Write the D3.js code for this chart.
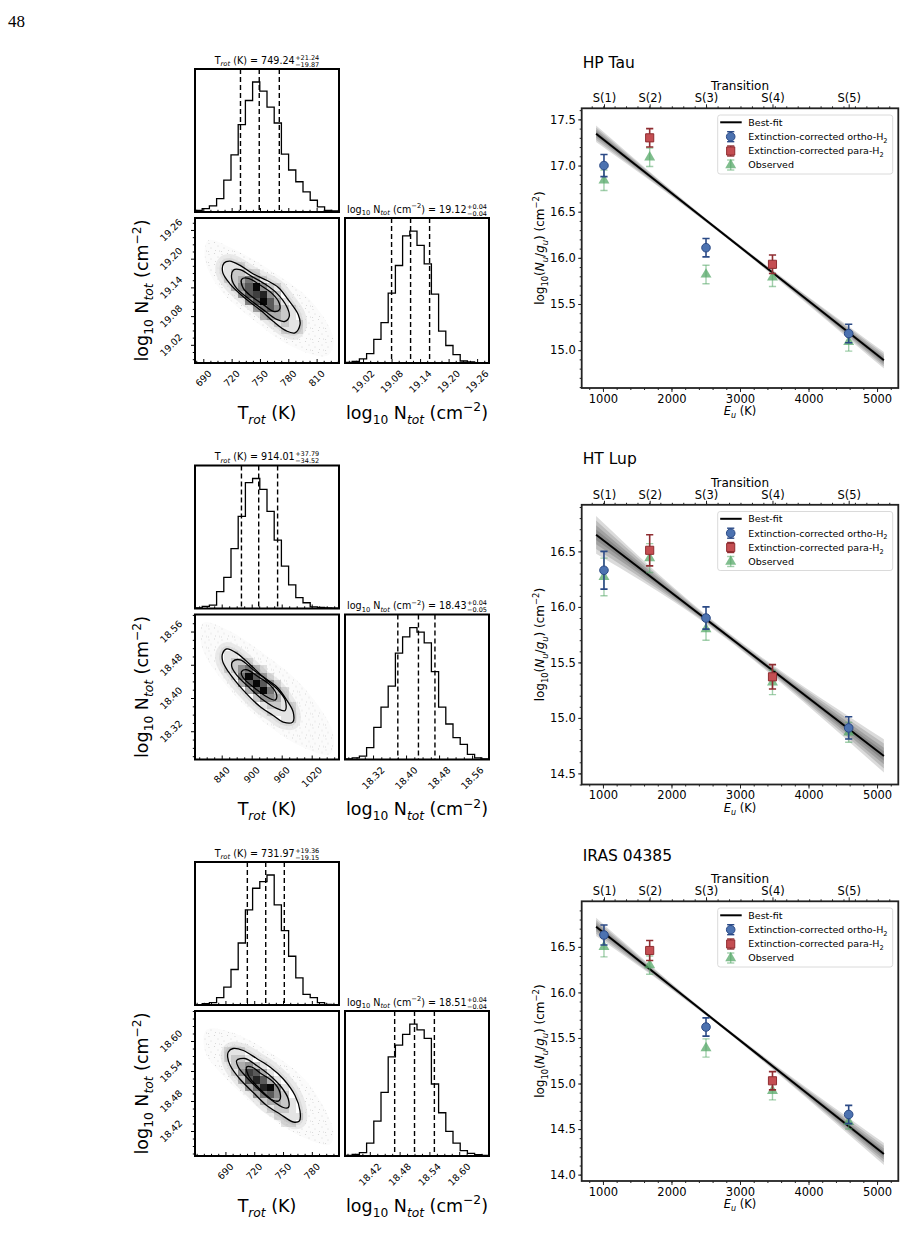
<!DOCTYPE html>
<html>
<head>
<meta charset="utf-8">
<script src="https://cdn.jsdelivr.net/npm/d3@7/dist/d3.min.js"></script>
<style>
body { margin: 0; background: #fff; }
svg { display: block; }
text { font-family: "DejaVu Sans", sans-serif; fill: #000; }
</style>
</head>
<body>
<svg id="fig" width="905" height="1245"></svg>
<script>
// ---------- values ----------
var sourceNames = ["HP Tau", "HT Lup", "IRAS 04385"];
var transitionNames = ["S(1)", "S(2)", "S(3)", "S(4)", "S(5)"];
var transitionEu = [1015, 1682, 2504, 3474, 4586];
var orthoIdx = [0, 2, 4];
var paraIdx = [1, 3];

var orthoLogN = [[17.00, 16.11, 15.18], [16.33, 15.90, 14.91], [16.63, 15.62, 14.66]];
var orthoErr  = [[0.12, 0.10, 0.10], [0.17, 0.10, 0.10], [0.11, 0.10, 0.10]];
var paraLogN  = [[17.30, 15.93], [16.51, 15.37], [16.46, 15.03]];
var paraErr   = [[0.10, 0.10], [0.14, 0.11], [0.11, 0.10]];
var obsLogN   = [[16.84, 17.09, 15.82, 15.79, 15.09], [16.27, 16.44, 15.80, 15.32, 14.87], [16.50, 16.30, 15.39, 14.92, 14.58]];
var obsErr    = [[0.11, 0.10, 0.10, 0.10, 0.10], [0.17, 0.13, 0.10, 0.11, 0.09], [0.11, 0.10, 0.10, 0.10, 0.08]];

// best fit (value at Eu = 900 and 5100 K) and spread of the posterior lines
var fitEu = [900, 5100];
var fitLogN = [[17.345, 14.89], [16.65, 14.657], [16.72, 14.226]];
var bandEu = [900, 2800, 5100];
var bandHalf = [[0.09, 0.02, 0.09], [0.17, 0.035, 0.15], [0.10, 0.02, 0.12]];

var euDomain = [690, 5310];
var euTicks = [1000, 2000, 3000, 4000, 5000];
var logNDomain = [[14.59, 17.62], [14.40, 16.92], [13.93, 17.00]];

// corner plots
var tRot   = [749.24, 914.01, 731.97];
var tRotUp = [21.24, 37.79, 19.36];
var tRotLo = [19.87, 34.52, 19.15];
var nTot   = [19.12, 18.43, 18.51];
var nTotUp = [0.04, 0.04, 0.04];
var nTotLo = [0.04, 0.05, 0.04];

var tRange = [[681.2, 833.7], [786.6, 1074.6], [658.3, 808.3]];
var nRange = [[18.982, 19.285], [18.252, 18.601], [18.37, 18.66]];
var tTicks = [[690, 720, 750, 780, 810], [840, 900, 960, 1020], [690, 720, 750, 780]];
var nTicks = [[19.02, 19.08, 19.14, 19.20, 19.26], [18.32, 18.40, 18.48, 18.56], [18.42, 18.48, 18.54, 18.60]];

var tHist = [
  [5, 10, 18, 40, 95, 170, 260, 332, 387, 360, 312, 265, 172, 125, 90, 60, 35, 15, 5, 3],
  [2, 6, 10, 50, 92, 177, 272, 372, 384, 352, 287, 202, 125, 70, 32, 17, 5, 3, 2, 1],
  [1, 4, 7, 22, 54, 107, 187, 287, 352, 372, 392, 302, 224, 147, 82, 32, 22, 7, 2, 1]
];
var nHist = [
  [2, 5, 12, 28, 70, 120, 208, 290, 378, 392, 350, 295, 205, 95, 52, 25, 6, 3, 1, 0],
  [2, 5, 10, 35, 95, 155, 217, 315, 363, 390, 377, 345, 260, 155, 105, 65, 45, 15, 5, 2],
  [2, 5, 10, 38, 103, 188, 293, 328, 360, 390, 373, 348, 213, 128, 73, 38, 16, 8, 4, 2]
];

// 20x20 density cells, top row first, darkness 0-9
var cells = [
  ["00000000000000000000", "00000000000000000000", "00000000000000000000", "00000000000000000000",
   "00000000000000000000", "00000000000000000000", "00001110000000000000", "00001221100000000000",
   "00001235310000000000", "00000246942100000000", "00000036784200000000", "00000004696310000000",
   "00000000356421000000", "00000000023321000000", "00000000000121100000", "00000000000011100000",
   "00000000000000000000", "00000000000000000000", "00000000000000000000", "00000000000000000000"],
  ["00000000000000000000", "00000000000000000000", "00000000000000000000", "00000000000000000000",
   "00000000000000000000", "00001100000000000000", "00001221000000000000", "00001245210000000000",
   "00000159631000000000", "00000036963100000000", "00000003695210000000", "00000000244310000000",
   "00000000012211000000", "00000000001111000000", "00000000000011000000", "00000000000000000000",
   "00000000000000000000", "00000000000000000000", "00000000000000000000", "00000000000000000000"],
  ["00000000000000000000", "00000000000000000000", "00000000000000000000", "00000000000000000000",
   "00000000000000000000", "00001110000000000000", "00001221000000000000", "00000234210000000000",
   "00000147631000000000", "00000026863100000000", "00000003589410000000", "00000000356420000000",
   "00000000023321000000", "00000000001221000000", "00000000000111100000", "00000000000011000000",
   "00000000000000000000", "00000000000000000000", "00000000000000000000", "00000000000000000000"]
];

var contourOuter = [
  [[712, 19.191], [718, 19.195], [729, 19.186], [743, 19.168], [757, 19.155], [769.5, 19.140], [780, 19.114], [790.6, 19.083],
   [792.4, 19.062], [787, 19.045], [778, 19.049], [764, 19.069], [752, 19.090], [732, 19.121], [718, 19.148], [710.5, 19.172]],
  [[842, 18.508], [850, 18.518], [870, 18.508], [897, 18.480], [923, 18.451], [950, 18.427], [970, 18.395], [983, 18.366],
   [982, 18.342], [963, 18.342], [943, 18.358], [917, 18.379], [883, 18.419], [853, 18.464], [842, 18.488]],
  [[693, 18.578], [698, 18.585], [708.6, 18.581], [722.5, 18.565], [736.4, 18.548], [750.3, 18.524], [762.5, 18.491], [767.7, 18.460],
   [767, 18.440], [760.7, 18.438], [746.8, 18.454], [733, 18.471], [719, 18.497], [705, 18.524], [695, 18.551], [692.3, 18.568]]
];
var contourMid = [
  [[721.8, 19.176], [728.9, 19.177], [741.2, 19.163], [755.3, 19.147], [767.7, 19.128], [778.3, 19.100], [781.1, 19.080],
   [776.5, 19.069], [767.7, 19.073], [753.6, 19.093], [737.7, 19.117], [725.3, 19.138], [720, 19.159]],
  [[862, 18.488], [877, 18.492], [903, 18.468], [930, 18.443], [953, 18.419], [967, 18.395], [967, 18.370], [950, 18.375],
   [923, 18.395], [897, 18.423], [870, 18.455], [860, 18.476]],
  [[701.7, 18.561], [710.4, 18.565], [722.5, 18.551], [736.4, 18.531], [748.6, 18.507], [755.5, 18.484], [755.5, 18.467],
   [750.3, 18.467], [736.4, 18.484], [722.5, 18.507], [710.4, 18.531], [703.4, 18.548]]
];
var contourInner = [
  [[730.6, 19.157], [737.7, 19.159], [750, 19.145], [762.4, 19.128], [770.5, 19.107], [770.5, 19.093], [764.2, 19.090],
   [753.6, 19.104], [741.2, 19.121], [732.4, 19.138]],
  [[880, 18.464], [890, 18.468], [913, 18.451], [937, 18.431], [950, 18.407], [947, 18.395], [930, 18.403], [907, 18.423],
   [887, 18.443], [880, 18.455]],
  [[712.1, 18.548], [717.3, 18.548], [727.7, 18.534], [739.9, 18.518], [746.8, 18.497], [746.1, 18.481], [739.9, 18.481],
   [731.2, 18.494], [720.8, 18.514], [713.9, 18.531]]
];
// outline of the scattered MCMC samples
var sampleCloud = [
  [[695, 19.238], [718, 19.224], [761, 19.176], [803, 19.114], [828, 19.031], [821, 18.997], [782, 19.018], [747, 19.066], [708, 19.135], [692, 19.196]],
  [[803, 18.581], [850, 18.565], [923, 18.508], [1003, 18.427], [1063, 18.314], [1057, 18.265], [1003, 18.281], [937, 18.330], [857, 18.419], [800, 18.524]],
  [[670, 18.622], [695, 18.618], [736, 18.578], [775, 18.518], [802, 18.423], [799, 18.393], [768, 18.41], [730, 18.457], [691, 18.524], [669, 18.578]]
];

// ---------- layout ----------
var blockStep = 396.5;
var cX = 195, cRX = 345, cSize = 144;
var hTop = 69, hH = 143;
var mTop = 218, mH = 145;
var pL = 581.7, pR = 898.3, pT = 108.3, pB = 388;

var svg = d3.select("#fig");
var defs = svg.append("defs");
var pat = defs.append("pattern").attr("id", "dots").attr("patternUnits", "userSpaceOnUse")
  .attr("width", 13).attr("height", 11);
[[1, 1.5], [6.5, 0.5], [3, 6], [10, 4], [7.5, 8.5], [0.5, 9.5], [11.5, 9]].forEach(function (p) {
  pat.append("circle").attr("cx", p[0]).attr("cy", p[1]).attr("r", 0.55)
    .attr("fill", "#999").attr("fill-opacity", 0.4);
});

svg.append("text").attr("x", 8).attr("y", 27).attr("font-size", 17)
  .style("font-family", "'Liberation Serif', serif").text("48");

// text with sub / superscripts
function rich(sel, parts, fs) {
  var t = sel.append("text").attr("font-size", fs);
  var cur = 0;
  parts.forEach(function (p) {
    var off = p.sub ? 0.3 * fs : (p.sup ? -0.42 * fs : 0);
    var s = t.append("tspan").attr("dy", off - cur).text(p.t);
    if (p.sub || p.sup) s.attr("font-size", 0.7 * fs);
    if (p.it) s.attr("font-style", "italic");
    cur = off;
  });
  return t;
}

function valueTitle(sel, parts, fs, up, lo, cx, by) {
  var g = sel.append("g");
  var t = rich(g, parts, fs);
  var w = t.node().getComputedTextLength();
  var a = g.append("text").attr("x", w + 0.5).attr("y", -0.4 * fs).attr("font-size", 0.68 * fs).text("+" + up);
  var b = g.append("text").attr("x", w + 0.5).attr("y", 0.33 * fs).attr("font-size", 0.68 * fs).text("\u2212" + lo);
  var tot = w + 0.5 + Math.max(a.node().getComputedTextLength(), b.node().getComputedTextLength());
  g.attr("transform", "translate(" + (cx - tot / 2) + "," + by + ")");
}

var tLabel = [{t: "T"}, {t: "rot", sub: 1, it: 1}, {t: " (K)"}];
var nLabel = [{t: "log"}, {t: "10", sub: 1}, {t: " N"}, {t: "tot", sub: 1, it: 1}, {t: " (cm"}, {t: "\u22122", sup: 1}, {t: ")"}];

function minorOf(ticks, dom, div) {
  var st = ticks[1] - ticks[0];
  return d3.range(ticks[0] - st, ticks[ticks.length - 1] + st * 1.01, st / div).filter(function (v) {
    return v >= dom[0] && v <= dom[1] && !ticks.some(function (t) { return Math.abs(t - v) < st * 0.01; });
  });
}

function tickAxis(g, axis, scale, vals, size, transform) {
  var sel = g.append("g").attr("transform", transform)
    .call(axis(scale).tickValues(vals).tickSize(size).tickFormat(""));
  sel.select(".domain").remove();
  sel.selectAll("line").attr("stroke", "#000").attr("stroke-width", 1);
}

// ticks pointing into the panel
function cornerTicks(g, axis, scale, ticks, transform, inward) {
  tickAxis(g, axis, scale, ticks, -inward, transform);
  tickAxis(g, axis, scale, minorOf(ticks, scale.domain(), 4), -inward * 0.55, transform);
}

function rotLabels(g, scale, vals, fmt, horiz, axisPos) {
  vals.forEach(function (v) {
    var t = g.append("text").attr("font-size", 9.5).attr("text-anchor", "middle")
      .attr("dominant-baseline", "central").text(fmt(v));
    var half = (t.node().getComputedTextLength() + 9.5) / (2 * Math.SQRT2);
    if (horiz) t.attr("transform", "translate(" + scale(v) + "," + (axisPos + 5.5 + half) + ") rotate(-45)");
    else t.attr("transform", "translate(" + (axisPos - 11 - half) + "," + scale(v) + ") rotate(-45)");
  });
}

function stepHist(g, x, counts, range, top, h, marks) {
  var y = d3.scaleLinear().domain([0, 1.1 * d3.max(counts)]).range([top + h, top]);
  var step = (range[1] - range[0]) / counts.length;
  var pts = [[range[0], 0]];
  counts.forEach(function (c, k) {
    pts.push([range[0] + k * step, c], [range[0] + (k + 1) * step, c]);
  });
  pts.push([range[1], 0]);
  g.append("path").attr("d", d3.line().x(function (d) { return x(d[0]); }).y(function (d) { return y(d[1]); })(pts))
    .attr("fill", "none").attr("stroke", "#000").attr("stroke-width", 1.3);
  marks.forEach(function (v) {
    g.append("line").attr("x1", x(v)).attr("x2", x(v)).attr("y1", top).attr("y2", top + h)
      .attr("stroke", "#000").attr("stroke-width", 1.4).attr("stroke-dasharray", "5,3");
  });
  g.append("rect").attr("x", x.range()[0]).attr("y", top).attr("width", cSize).attr("height", h)
    .attr("fill", "none").attr("stroke", "#000").attr("stroke-width", 2);
}

function drawCorner(i, g) {
  var xT = d3.scaleLinear().domain(tRange[i]).range([cX, cX + cSize]);
  var xN = d3.scaleLinear().domain(nRange[i]).range([cRX, cRX + cSize]);
  var yN = d3.scaleLinear().domain(nRange[i]).range([mTop + mH, mTop]);
  var fT = d3.format("d"), fN = d3.format(".2f");

  stepHist(g, xT, tHist[i], tRange[i], hTop, hH, [tRot[i] - tRotLo[i], tRot[i], tRot[i] + tRotUp[i]]);
  cornerTicks(g, d3.axisBottom, xT, tTicks[i], "translate(0," + (hTop + hH) + ")", 4);

  // 2D panel
  var cid = "cclip" + i;
  g.append("clipPath").attr("id", cid).append("rect")
    .attr("x", cX).attr("y", mTop).attr("width", cSize).attr("height", mH);
  var m = g.append("g").attr("clip-path", "url(#" + cid + ")");
  var closed = d3.line().curve(d3.curveCatmullRomClosed.alpha(0.5))
    .x(function (d) { return xT(d[0]); }).y(function (d) { return yN(d[1]); });
  m.append("path").attr("d", closed(sampleCloud[i])).attr("fill", "#fbfbfb");
  m.append("path").attr("d", closed(sampleCloud[i])).attr("fill", "url(#dots)");
  m.append("path").attr("d", closed(contourOuter[i])).attr("fill", "none")
    .attr("stroke", "#e0e0e0").attr("stroke-width", 14).attr("stroke-linejoin", "round").attr("stroke-opacity", 0.6);
  m.append("path").attr("d", closed(contourOuter[i])).attr("fill", "none")
    .attr("stroke", "#d4d4d4").attr("stroke-width", 6).attr("stroke-linejoin", "round").attr("stroke-opacity", 0.7);
  m.append("path").attr("d", closed(contourOuter[i])).attr("fill", "#fff");
  var tStep = (tRange[i][1] - tRange[i][0]) / 20, nStep = (nRange[i][1] - nRange[i][0]) / 20;
  cells[i].forEach(function (row, r) {
    row.split("").forEach(function (ch, c) {
      var lev = +ch;
      if (!lev) return;
      var t0 = tRange[i][0] + c * tStep, n1 = nRange[i][1] - r * nStep;
      m.append("rect").attr("x", xT(t0)).attr("y", yN(n1))
        .attr("width", xT(t0 + tStep) - xT(t0)).attr("height", yN(n1 - nStep) - yN(n1))
        .attr("fill", "#000").attr("fill-opacity", lev / 9 * 0.97).attr("shape-rendering", "crispEdges");
    });
  });
  [contourOuter, contourMid, contourInner].forEach(function (c) {
    m.append("path").attr("d", closed(c[i])).attr("fill", "none").attr("stroke", "#000").attr("stroke-width", 1.3);
  });
  g.append("rect").attr("x", cX).attr("y", mTop).attr("width", cSize).attr("height", mH)
    .attr("fill", "none").attr("stroke", "#000").attr("stroke-width", 2);
  cornerTicks(g, d3.axisBottom, xT, tTicks[i], "translate(0," + (mTop + mH) + ")", 4);
  cornerTicks(g, d3.axisLeft, yN, nTicks[i], "translate(" + cX + ",0)", -4);
  rotLabels(g, xT, tTicks[i], fT, true, mTop + mH);
  rotLabels(g, yN, nTicks[i], fN, false, cX);

  // N histogram
  stepHist(g, xN, nHist[i], nRange[i], mTop, mH, [nTot[i] - nTotLo[i], nTot[i], nTot[i] + nTotUp[i]]);
  cornerTicks(g, d3.axisBottom, xN, nTicks[i], "translate(0," + (mTop + mH) + ")", 4);
  rotLabels(g, xN, nTicks[i], fN, true, mTop + mH);

  // titles and labels
  valueTitle(g, [{t: "T"}, {t: "rot", sub: 1, it: 1}, {t: " (K) = " + d3.format(".2f")(tRot[i])}], 9.6,
    d3.format(".2f")(tRotUp[i]), d3.format(".2f")(tRotLo[i]), cX + cSize / 2, 63.5);
  valueTitle(g, [{t: "log"}, {t: "10", sub: 1}, {t: " N"}, {t: "tot", sub: 1, it: 1}, {t: " (cm"}, {t: "\u22122", sup: 1},
    {t: ") = " + d3.format(".2f")(nTot[i])}], 9.6, d3.format(".2f")(nTotUp[i]), d3.format(".2f")(nTotLo[i]), cRX + cSize / 2, 212.5);
  rich(g, tLabel, 17.5).attr("text-anchor", "middle").attr("x", cX + cSize / 2).attr("y", 418.5);
  rich(g, nLabel, 17.5).attr("text-anchor", "middle").attr("x", cRX + cSize / 2).attr("y", 418.5);
  rich(g, nLabel, 17.5).attr("text-anchor", "middle")
    .attr("transform", "translate(148," + (mTop + mH / 2) + ") rotate(-90)");
}

var orthoColor = "#4c72b0", orthoEdge = "#2b4a86";
var paraColor = "#c44e52", paraEdge = "#8f2d31";
var obsColor = "#55a868";

function errorbars(sel, pts, x, y, color, op, lw) {
  pts.forEach(function (p) {
    var gx = x(p.e), y0 = y(p.v - p.err), y1 = y(p.v + p.err);
    var g = sel.append("g").attr("stroke", color).attr("stroke-opacity", op).attr("stroke-width", lw);
    g.append("line").attr("x1", gx).attr("x2", gx).attr("y1", y0).attr("y2", y1);
    [y0, y1].forEach(function (yy) {
      g.append("line").attr("x1", gx - 3.6).attr("x2", gx + 3.6).attr("y1", yy).attr("y2", yy);
    });
  });
}

var triangle = d3.symbol(d3.symbolTriangle, 52)();
var square = d3.symbol(d3.symbolSquare, 66)();

function drawFit(i, g) {
  var x = d3.scaleLinear().domain(euDomain).range([pL, pR]);
  var y = d3.scaleLinear().domain(logNDomain[i]).range([pB, pT]);
  var fit = d3.scaleLinear().domain(fitEu).range(fitLogN[i]);
  var dom = logNDomain[i];

  var pid = "pclip" + i;
  g.append("clipPath").attr("id", pid).append("rect")
    .attr("x", pL).attr("y", pT).attr("width", pR - pL).attr("height", pB - pT);
  var inner = g.append("g").attr("clip-path", "url(#" + pid + ")");
  var band = bandEu.map(function (e, k) { return {e: e, h: bandHalf[i][k]}; });
  [1, 0.75, 0.5, 0.28].forEach(function (f) {
    inner.append("path")
      .attr("d", d3.area().curve(d3.curveNatural)
        .x(function (d) { return x(d.e); })
        .y0(function (d) { return y(fit(d.e) - d.h * f); })
        .y1(function (d) { return y(fit(d.e) + d.h * f); })(band))
      .attr("fill", "#000").attr("fill-opacity", 0.14);
  });
  inner.append("path").attr("d", d3.line().x(function (d) { return x(d); }).y(function (d) { return y(fit(d)); })(fitEu))
    .attr("fill", "none").attr("stroke", "#000").attr("stroke-width", 2);

  var obs = transitionEu.map(function (e, k) { return {e: e, v: obsLogN[i][k], err: obsErr[i][k]}; });
  var ortho = orthoIdx.map(function (k, j) { return {e: transitionEu[k], v: orthoLogN[i][j], err: orthoErr[i][j]}; });
  var para = paraIdx.map(function (k, j) { return {e: transitionEu[k], v: paraLogN[i][j], err: paraErr[i][j]}; });

  errorbars(inner, obs, x, y, obsColor, 0.55, 1.4);
  obs.forEach(function (p) {
    inner.append("path").attr("d", triangle).attr("transform", "translate(" + x(p.e) + "," + y(p.v) + ")")
      .attr("fill", obsColor).attr("fill-opacity", 0.75);
  });
  errorbars(inner, ortho, x, y, orthoEdge, 1, 1.6);
  ortho.forEach(function (p) {
    inner.append("circle").attr("cx", x(p.e)).attr("cy", y(p.v)).attr("r", 4.3)
      .attr("fill", orthoColor).attr("stroke", orthoEdge).attr("stroke-width", 1);
  });
  errorbars(inner, para, x, y, paraEdge, 1, 1.6);
  para.forEach(function (p) {
    inner.append("path").attr("d", square).attr("transform", "translate(" + x(p.e) + "," + y(p.v) + ")")
      .attr("fill", paraColor).attr("stroke", paraEdge).attr("stroke-width", 1);
  });

  // axes
  function styleAxis(sel) {
    sel.select(".domain").remove();
    sel.selectAll("line").attr("stroke", "#222");
    sel.selectAll("text").attr("font-size", 11.5).attr("fill", "#000");
  }
  g.append("g").attr("transform", "translate(0," + pB + ")")
    .call(d3.axisBottom(x).tickValues(euTicks).tickSize(4).tickPadding(2.5).tickFormat(d3.format("d"))).call(styleAxis);
  g.append("g").attr("transform", "translate(0," + pB + ")")
    .call(d3.axisBottom(x).tickValues(d3.range(800, euDomain[1], 200)).tickSize(2).tickFormat("")).call(styleAxis);
  g.append("g").attr("transform", "translate(" + pL + ",0)")
    .call(d3.axisLeft(y).tickValues(d3.range(Math.ceil(dom[0] * 2) / 2, dom[1], 0.5)).tickSize(3.5).tickPadding(2.5)
      .tickFormat(d3.format(".1f"))).call(styleAxis);
  g.append("g").attr("transform", "translate(" + pL + ",0)")
    .call(d3.axisLeft(y).tickValues(d3.range(Math.ceil(dom[0] * 10) / 10, dom[1], 0.1)).tickSize(2).tickFormat("")).call(styleAxis);
  g.append("g").attr("transform", "translate(0," + pT + ")")
    .call(d3.axisTop(x).tickValues(transitionEu).tickSize(4).tickPadding(2.3)
      .tickFormat(function (d, k) { return transitionNames[k]; })).call(styleAxis);
  g.append("g").attr("transform", "translate(0," + pT + ")")
    .call(d3.axisTop(x).tickValues(d3.range(836, euDomain[1], 167)).tickSize(2).tickFormat("")).call(styleAxis);

  g.append("rect").attr("x", pL).attr("y", pT).attr("width", pR - pL).attr("height", pB - pT)
    .attr("fill", "none").attr("stroke", "#222").attr("stroke-width", 1.8);

  g.append("text").attr("x", pL + 1).attr("y", 67.5).attr("font-size", 15.5).text(sourceNames[i]);
  g.append("text").attr("x", (pL + pR) / 2).attr("y", 90.3).attr("font-size", 12)
    .attr("text-anchor", "middle").text("Transition");
  rich(g, [{t: "E", it: 1}, {t: "u", sub: 1, it: 1}, {t: " (K)"}], 11.5).attr("text-anchor", "middle")
    .attr("x", (pL + pR) / 2).attr("y", 415);
  rich(g, [{t: "log"}, {t: "10", sub: 1}, {t: "("}, {t: "N", it: 1}, {t: "u", sub: 1, it: 1}, {t: "/"}, {t: "g", it: 1},
    {t: "u", sub: 1, it: 1}, {t: ") (cm"}, {t: "\u22122", sup: 1}, {t: ")"}], 12)
    .attr("text-anchor", "middle").attr("transform", "translate(544," + (pT + pB) / 2 + ") rotate(-90)");

  // legend
  var lw = 175, lh = 59;
  var lg = g.append("g").attr("transform", "translate(" + (pR - 5.6 - lw) + "," + (pT + 6.7) + ")");
  lg.append("rect").attr("width", lw).attr("height", lh).attr("rx", 2.5)
    .attr("fill", "#fff").attr("fill-opacity", 0.85).attr("stroke", "#d0d0d0").attr("stroke-width", 0.8);
  var ly = [7.3, 21.7, 36, 50];
  var mx = d3.scaleLinear().domain([0, 1]).range([0, 1]);
  var my = d3.scaleLinear().domain([0, -1]).range([0, 1]);
  lg.append("line").attr("x1", 2.5).attr("x2", 24).attr("y1", ly[0]).attr("y2", ly[0])
    .attr("stroke", "#000").attr("stroke-width", 2);
  errorbars(lg, [{e: 13, v: -ly[1], err: 5}], mx, my, orthoEdge, 1, 1.4);
  lg.append("circle").attr("cx", 13).attr("cy", ly[1]).attr("r", 4.3)
    .attr("fill", orthoColor).attr("stroke", orthoEdge);
  errorbars(lg, [{e: 13, v: -ly[2], err: 5}], mx, my, paraEdge, 1, 1.4);
  lg.append("path").attr("d", square).attr("transform", "translate(13," + ly[2] + ")")
    .attr("fill", paraColor).attr("stroke", paraEdge);
  errorbars(lg, [{e: 13, v: -ly[3], err: 5}], mx, my, obsColor, 0.55, 1.4);
  lg.append("path").attr("d", triangle).attr("transform", "translate(13," + ly[3] + ")")
    .attr("fill", obsColor).attr("fill-opacity", 0.75);
  var labels = [
    [{t: "Best-fit"}],
    [{t: "Extinction-corrected ortho-H"}, {t: "2", sub: 1}],
    [{t: "Extinction-corrected para-H"}, {t: "2", sub: 1}],
    [{t: "Observed"}]
  ];
  labels.forEach(function (parts, k) {
    rich(lg, parts, 9.5).attr("x", 30.6).attr("y", ly[k] + 3.4);
  });
}

sourceNames.forEach(function (name, i) {
  var g = svg.append("g").attr("transform", "translate(0," + (i * blockStep) + ")");
  drawCorner(i, g);
  drawFit(i, g);
});
</script>
</body>
</html>
